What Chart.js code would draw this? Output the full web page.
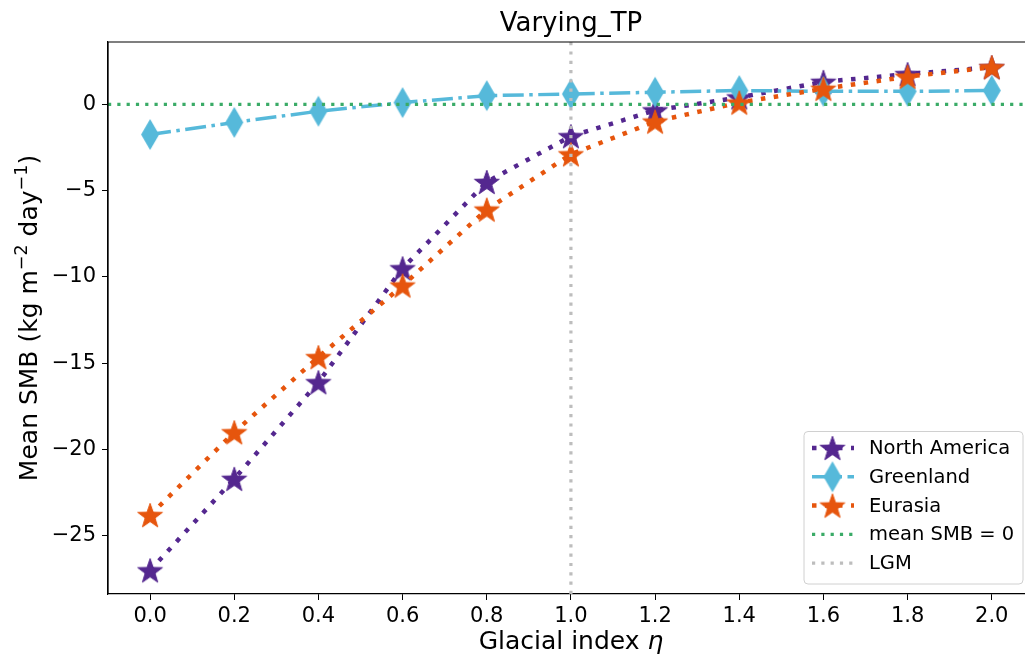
<!DOCTYPE html>
<html>
<head>
<meta charset="utf-8">
<script src="https://cdn.jsdelivr.net/npm/chart.js@4.4.1/dist/chart.umd.min.js"></script>
<style>
  html, body { margin: 0; background: #fff; overflow: hidden; }
  #wrap { width: 1025px; height: 660px; }
</style>
</head>
<body>
<div id="wrap"><canvas id="smbChart"></canvas></div>
<script>
// valores
const glacialIndex = [0.0, 0.2, 0.4, 0.6, 0.8, 1.0, 1.2, 1.4, 1.6, 1.8, 2.0];
const northAmerica = [-27.0, -21.7, -16.1, -9.5, -4.5, -1.85, -0.35, 0.4, 1.3, 1.75, 2.15];
const greenland = [-1.75, -1.05, -0.4, 0.1, 0.5, 0.6, 0.7, 0.8, 0.75, 0.75, 0.8];
const eurasia = [-23.8, -19.0, -14.65, -10.5, -6.1, -2.9, -1.0, 0.1, 0.9, 1.6, 2.15];
const xTicks = [0.0, 0.2, 0.4, 0.6, 0.8, 1.0, 1.2, 1.4, 1.6, 1.8, 2.0];
const yTicks = [-25, -20, -15, -10, -5, 0];
const zeroLine = 0;   // mean SMB = 0
const lgmIndex = 1.0; // LGM

const xMin = -0.1, xMax = 2.079;
const yMin = -28.37, yMax = 3.61;

const FONT = "'DejaVu Sans', sans-serif";

// marcadores preenchidos (estrela e losango fino)
function starImage(color, r) {
  const c = document.createElement('canvas');
  const s = Math.ceil(2 * r + 4);
  c.width = s; c.height = s;
  const g = c.getContext('2d');
  g.translate(s / 2, s / 2 + r * 0.1);
  g.beginPath();
  for (let i = 0; i < 10; i++) {
    const rad = i % 2 === 0 ? r : r * 0.4;
    const a = -Math.PI / 2 + i * Math.PI / 5;
    const px = rad * Math.cos(a), py = rad * Math.sin(a);
    if (i === 0) g.moveTo(px, py); else g.lineTo(px, py);
  }
  g.closePath();
  g.fillStyle = color;
  g.fill();
  g.lineWidth = 1;
  g.strokeStyle = color;
  g.stroke();
  return c;
}

function diamondImage(color, w, h) {
  const c = document.createElement('canvas');
  c.width = w + 2; c.height = h + 2;
  const g = c.getContext('2d');
  const cx = (w + 2) / 2, cy = (h + 2) / 2;
  g.beginPath();
  g.moveTo(cx, cy - h / 2);
  g.lineTo(cx + w / 2, cy);
  g.lineTo(cx, cy + h / 2);
  g.lineTo(cx - w / 2, cy);
  g.closePath();
  g.fillStyle = color;
  g.fill();
  return c;
}

const purple = '#54278f';
const blue = '#56b9da';
const orange = '#e6550d';
const green = '#3aab67';
const grey = '#bdbdbd';

const starNA = starImage(purple, 13);
const starEU = starImage(orange, 13);
const diamGL = diamondImage(blue, 18, 31);

function pts(ys) {
  return glacialIndex.map((x, i) => ({ x: x, y: ys[i] }));
}

const datasets = [
  { label: 'North America', data: pts(northAmerica), borderColor: purple, borderWidth: 4.5,
    borderDash: [4.5, 8.5], pointStyle: starNA, order: 5, legendMarker: starNA },
  { label: 'Greenland', data: pts(greenland), borderColor: blue, borderWidth: 3.5,
    borderDash: [21, 5.5, 3.5, 5.5], pointStyle: diamGL, order: 4, legendMarker: diamGL },
  { label: 'Eurasia', data: pts(eurasia), borderColor: orange, borderWidth: 4.5,
    borderDash: [4.5, 8.5], pointStyle: starEU, order: 3, legendMarker: starEU },
  { label: 'mean SMB = 0', data: [{ x: xMin, y: zeroLine }, { x: xMax, y: zeroLine }], borderColor: green,
    borderWidth: 3.2, borderDash: [3.2, 6.1], pointRadius: 0, order: 2 },
  { label: 'LGM', data: [{ x: lgmIndex, y: yMin }, { x: lgmIndex, y: yMax }], borderColor: grey,
    borderWidth: 3.2, borderDash: [3.2, 6.1], pointRadius: 0, order: 1 },
];
datasets.forEach(d => { d.fill = false; d.tension = 0; d.borderCapStyle = 'butt'; });

// moldura, títulos e legenda no estilo matplotlib
const decor = {
  id: 'decor',
  afterDraw(chart) {
    const ctx = chart.ctx;
    const a = chart.chartArea;
    const cx = 571;
    ctx.save();
    ctx.strokeStyle = '#000';
    ctx.lineWidth = 1.2;
    ctx.setLineDash([]);
    ctx.beginPath();
    ctx.moveTo(a.left, a.bottom);
    ctx.lineTo(a.left, a.top);
    ctx.lineTo(a.right, a.top);
    ctx.stroke();

    ctx.fillStyle = '#000';
    ctx.textBaseline = 'alphabetic';
    ctx.textAlign = 'center';
    ctx.font = '26px ' + FONT;
    ctx.fillText('Varying_TP', cx, 31);

    // título do eixo x com eta itálico
    ctx.font = '25px ' + FONT;
    const t1 = 'Glacial index ';
    const w1 = ctx.measureText(t1).width;
    ctx.font = 'italic 25px ' + FONT;
    const w2 = ctx.measureText('η').width;
    const x0 = cx - (w1 + w2) / 2;
    ctx.textAlign = 'left';
    ctx.font = '25px ' + FONT;
    ctx.fillText(t1, x0, 649);
    ctx.font = 'italic 25px ' + FONT;
    ctx.fillText('η', x0 + w1, 649);

    // título do eixo y com expoentes
    const parts = [
      ['Mean SMB (kg m', 25, 0], ['\u22122', 17.5, 10], [' day', 25, 0], ['\u22121', 17.5, 10], [')', 25, 0]
    ];
    let total = 0;
    parts.forEach(p => { ctx.font = p[1] + 'px ' + FONT; p.push(ctx.measureText(p[0]).width); total += p[3]; });
    ctx.save();
    ctx.translate(37, (a.top + a.bottom) / 2);
    ctx.rotate(-Math.PI / 2);
    ctx.textAlign = 'left';
    let px = -total / 2;
    parts.forEach(p => {
      ctx.font = p[1] + 'px ' + FONT;
      ctx.fillText(p[0], px, -p[2]);
      px += p[3];
    });
    ctx.restore();

    // legenda
    const bx = 804, by = 431.5, bw = 219, bh = 152.5;
    ctx.beginPath();
    ctx.roundRect(bx, by, bw, bh, 4);
    ctx.fillStyle = 'rgba(255,255,255,0.8)';
    ctx.fill();
    ctx.strokeStyle = '#d0d0d0';
    ctx.lineWidth = 1;
    ctx.stroke();
    ctx.textBaseline = 'middle';
    chart.data.datasets.forEach((d, i) => {
      const y = by + 16.5 + i * 28.8;
      ctx.beginPath();
      ctx.setLineDash(d.borderDash);
      ctx.lineWidth = d.borderWidth;
      ctx.strokeStyle = d.borderColor;
      ctx.moveTo(bx + 8, y);
      ctx.lineTo(bx + 50, y);
      ctx.stroke();
      ctx.setLineDash([]);
      if (d.legendMarker) {
        const m = d.legendMarker;
        ctx.drawImage(m, bx + 28.5 - m.width / 2, y - m.height / 2);
      }
      ctx.fillStyle = '#000';
      ctx.textAlign = 'left';
      ctx.font = '19.5px ' + FONT;
      ctx.fillText(d.label, bx + 65, y + 1);
    });
    ctx.restore();
  }
};

const ctx = document.getElementById('smbChart').getContext('2d');
const smbChart = new Chart(ctx, {
  type: 'line',
  data: { datasets: datasets },
  options: {
    responsive: true,
    maintainAspectRatio: false,
    animation: false,
    layout: { autoPadding: false, padding: { top: 42, right: 0, left: 0, bottom: 0 } },
    plugins: { legend: { display: false }, tooltip: { enabled: false }, title: { display: false } },
    scales: {
      x: {
        type: 'linear', min: xMin, max: xMax,
        afterBuildTicks: s => { s.ticks = xTicks.map(v => ({ value: v })); },
        afterFit: s => { s.height = 66; s.paddingLeft = 0; s.paddingRight = 0; },
        ticks: { color: '#000', font: { family: FONT, size: 21 }, padding: 4,
          callback: v => v.toFixed(1) },
        grid: { display: true, drawOnChartArea: false, drawTicks: true, tickLength: 6, color: '#000' },
        border: { display: true, color: '#000', width: 1.2 }
      },
      y: {
        type: 'linear', min: yMin, max: yMax,
        afterBuildTicks: s => { s.ticks = yTicks.map(v => ({ value: v })); },
        afterFit: s => { s.width = 108; s.paddingTop = 0; s.paddingBottom = 0; },
        ticks: { color: '#000', font: { family: FONT, size: 21 }, padding: 6,
          callback: v => (v < 0 ? '\u2212' + Math.abs(v) : String(v)) },
        grid: { display: true, drawOnChartArea: false, drawTicks: true, tickLength: 6, color: '#000' },
        border: { display: true, color: '#000', width: 1.2 }
      }
    }
  },
  plugins: [decor]
});
</script>
</body>
</html>
